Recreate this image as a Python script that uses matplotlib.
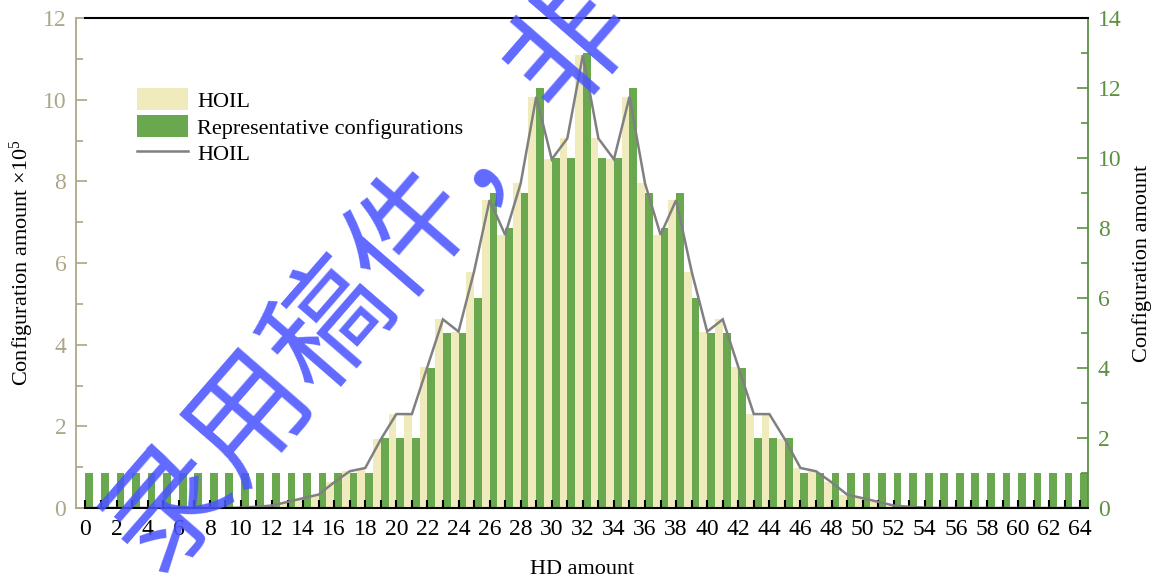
import matplotlib
matplotlib.use("Agg")
import matplotlib.pyplot as plt
from matplotlib.ticker import MultipleLocator
from matplotlib.patches import Patch
from matplotlib.lines import Line2D

plt.rcParams['font.family'] = ['Liberation Serif', 'DejaVu Serif']
plt.rcParams['mathtext.fontset'] = 'custom'
plt.rcParams['mathtext.rm'] = 'Liberation Serif'
plt.rcParams['mathtext.it'] = 'Liberation Serif:italic'

# ---------------- data ----------------
hd_amount = list(range(65))
# HOIL configuration amount (x10^5), left axis
hoil = [0, 0, 0, 0, 0, 0, 0, 0, 0, 0,
        0.01, 0.03, 0.06, 0.15, 0.24, 0.33, 0.63, 0.90, 0.98, 1.68,
        2.30, 2.30, 3.46, 4.62, 4.32, 5.79, 7.54, 6.69, 7.95, 10.07,
        8.54, 9.05, 11.09, 9.05, 8.54, 10.07, 7.95, 6.69, 7.54, 5.79,
        4.32, 4.62, 3.46, 2.30, 2.30, 1.68, 0.98, 0.90, 0.63, 0.33,
        0.24, 0.15, 0.06, 0.03, 0.01, 0, 0, 0, 0, 0,
        0, 0, 0, 0, 0]
# Representative configurations, right axis
representative = [1, 1, 1, 1, 1, 1, 1, 1, 1, 1,
                  1, 1, 1, 1, 1, 1, 1, 1, 1, 2,
                  2, 2, 4, 5, 5, 6, 9, 8, 9, 12,
                  10, 10, 13, 10, 10, 12, 9, 8, 9, 6,
                  5, 5, 4, 2, 2, 2, 1, 1, 1, 1,
                  1, 1, 1, 1, 1, 1, 1, 1, 1, 1,
                  1, 1, 1, 1, 1]
xtick_labels = [str(v) for v in range(0, 65, 2)]
legend_labels = ['HOIL', 'Representative configurations', 'HOIL']

yellow = '#f0ebbd'
green = '#6aa84f'
gray = '#808080'
tan = '#aca788'
dgreen = '#5b9140'

fig = plt.figure(figsize=(11.57, 5.8), dpi=100)
pos = [76 / 1157, 1 - 508 / 580, (1088 - 76) / 1157, (508 - 18) / 580]
ax = fig.add_axes(pos)
axg = ax.twinx()
axl = ax.twinx()

ax.bar(hd_amount, hoil, width=-0.5, align='edge', color=yellow, linewidth=0)
axg.bar(hd_amount, representative, width=0.5, align='edge', color=green, linewidth=0)
axl.plot(hd_amount, hoil, color=gray, lw=1.8, solid_joinstyle='miter')

ax.set_xlim(-0.61, 64.5)
ax.set_ylim(0, 12)
axg.set_ylim(0, 14)
axl.set_ylim(0, 12)

# left axis (tan)
for s in ['right', 'top']:
    ax.spines[s].set_visible(False)
ax.spines['left'].set_color(tan)
ax.spines['left'].set_linewidth(1.3)
ax.spines['bottom'].set_color(tan)
ax.spines['bottom'].set_linewidth(1.3)
ax.spines['bottom'].set_bounds(-0.61, 0)
ax.yaxis.set_major_locator(MultipleLocator(2))
ax.yaxis.set_minor_locator(MultipleLocator(1))
ax.tick_params(axis='y', which='both', direction='in', color=tan, labelcolor=tan,
               labelsize=17, width=1.2, pad=7)
ax.tick_params(axis='y', which='major', length=8)
ax.tick_params(axis='y', which='minor', length=5)
ax.tick_params(axis='x', which='both', bottom=False, labelbottom=False)
ax.set_ylabel('Configuration amount ×10$^{5}$', fontsize=16, labelpad=5)

# right axis (green)
for s in ['left', 'top', 'bottom']:
    axg.spines[s].set_visible(False)
axg.spines['right'].set_color(dgreen)
axg.spines['right'].set_linewidth(1.3)
axg.yaxis.set_major_locator(MultipleLocator(2))
axg.yaxis.set_minor_locator(MultipleLocator(1))
axg.tick_params(axis='y', which='both', direction='in', color=dgreen, labelcolor=dgreen,
                labelsize=17, width=1.2, pad=7)
axg.tick_params(axis='y', which='major', length=8)
axg.tick_params(axis='y', which='minor', length=5)
axg.set_ylabel('Configuration amount', fontsize=16, labelpad=8)

# top layer: x axis (black)
axl.xaxis.set_visible(True)
axl.yaxis.set_visible(False)
for s in ['left', 'right']:
    axl.spines[s].set_visible(False)
for s in ['bottom', 'top']:
    axl.spines[s].set_color('black')
    axl.spines[s].set_linewidth(1.5)
    axl.spines[s].set_bounds(0, 64.5)
axl.set_xticks(range(0, 65, 2))
axl.set_xticklabels(xtick_labels)
axl.xaxis.set_minor_locator(MultipleLocator(1))
axl.tick_params(axis='x', which='both', direction='in', length=6, width=1.5,
                color='black', labelsize=17, pad=8, top=False, bottom=True)
axl.set_xlabel('HD amount', fontsize=16, labelpad=14)

handles = [Patch(facecolor=yellow, edgecolor='none'),
           Patch(facecolor=green, edgecolor='none'),
           Line2D([0], [0], color=gray, lw=1.8)]
axl.legend(handles, legend_labels, loc='upper left', bbox_to_anchor=(0.0603, 0.857),
           frameon=False, borderpad=0, borderaxespad=0, handlelength=2.3,
           handleheight=1.15, handletextpad=0.4, labelspacing=0.15, fontsize=16)

# watermark
fig.text(0.320, 0.525, '录用稿件，非', rotation=49, fontsize=88, color='#4b55ff',
         alpha=0.88, family=['Noto Sans CJK SC', 'DejaVu Sans'],
         ha='center', va='center', rotation_mode='anchor', zorder=20)

fig.savefig('out.png', dpi=100)
